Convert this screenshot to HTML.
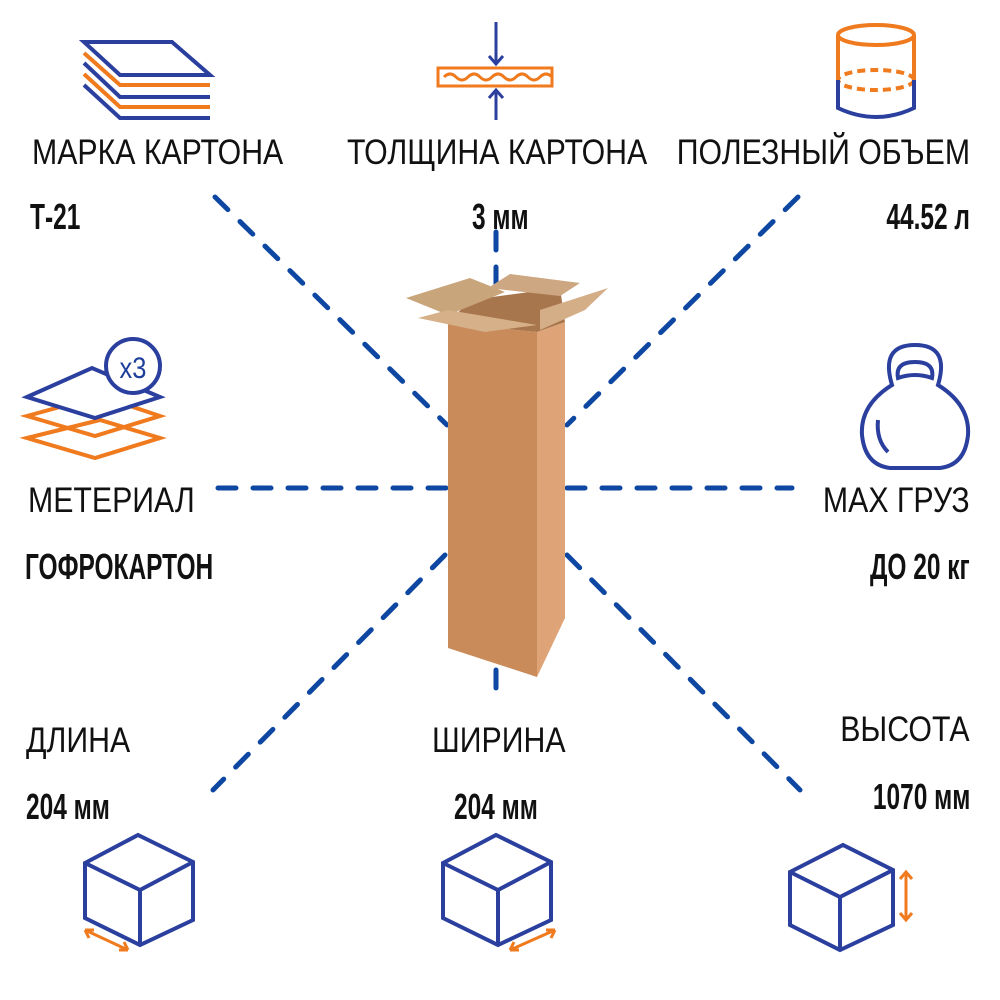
<!DOCTYPE html>
<html><head><meta charset="utf-8"><style>
html,body{margin:0;padding:0;background:#fff;}
body{width:1000px;height:1000px;position:relative;overflow:hidden;font-family:"Liberation Sans",sans-serif;}
.t{position:absolute;font-size:35px;line-height:40px;color:#111;white-space:nowrap;transform:scaleX(0.865);transform-origin:left top;}
.v{position:absolute;font-size:36px;line-height:40px;font-weight:bold;color:#111;white-space:nowrap;transform:scaleX(0.68);transform-origin:left top;}
.r{transform-origin:right top;}
svg{position:absolute;left:0;top:0;}
</style></head><body>
<svg width="1000" height="1000" viewBox="0 0 1000 1000">
<g stroke="#0d47a1" stroke-width="5" stroke-linecap="round" stroke-dasharray="18 17" fill="none">
<line x1="215" y1="197" x2="447" y2="425"/>
<line x1="798" y1="197" x2="567" y2="425"/>
<line x1="218" y1="488" x2="447" y2="488"/>
<line x1="567" y1="488" x2="792" y2="488"/>
<line x1="445" y1="555" x2="213" y2="790"/>
<line x1="567" y1="555" x2="800" y2="790"/>
<line x1="496" y1="232" x2="496" y2="300"/>
<line x1="496" y1="670" x2="496" y2="700"/>
</g>
<polygon points="448,323 537,332 537,677 448,648" fill="#c98b5a"/>
<polygon points="537,332 565,322 565,618 537,677" fill="#dea478"/>
<polygon points="470,300 560,288 565,322 537,332 448,323" fill="#a8764d"/>
<polygon points="406,298 470,278 505,292 448,315" fill="#c9a57c"/>
<polygon points="418,318 448,310 537,325 485,332" fill="#d6b088"/>
<polygon points="488,288 510,274 580,283 560,296" fill="#cca781"/>
<polygon points="540,310 608,288 585,310 540,330" fill="#d3ae86"/>
<g fill="none" stroke-width="4">
<polygon points="84,42 172,42 210,75 120,75" stroke="#2a3f9e"/>
<path d="M84,53 L120,85 L210,85" stroke="#f07a1e"/>
<path d="M84,63 L120,97 L210,97" stroke="#2a3f9e"/>
<path d="M84,74 L120,107 L210,107" stroke="#f07a1e"/>
<path d="M84,85 L120,118 L210,118" stroke="#2a3f9e"/>
</g>
<g stroke-width="3" fill="none">
<rect x="438" y="68" width="114" height="18" stroke="#f07a1e"/>
<path d="M444,77 q6,-6 12,0 t12,0 t12,0 t12,0 t12,0 t12,0 t12,0 t12,0 t12,0" stroke="#f07a1e"/>
<line x1="496" y1="22" x2="496" y2="64" stroke="#2a3f9e"/>
<path d="M489,56 L496,64 L503,56" stroke="#2a3f9e"/>
<line x1="496" y1="90" x2="496" y2="120" stroke="#2a3f9e"/>
<path d="M489,98 L496,90 L503,98" stroke="#2a3f9e"/>
</g>
<g fill="none" stroke-width="4">
<ellipse cx="876" cy="35" rx="38" ry="10" stroke="#f07a1e"/>
<path d="M838,35 L838,80" stroke="#f07a1e"/><path d="M914,35 L914,80" stroke="#f07a1e"/>
<ellipse cx="876" cy="80" rx="38" ry="10" stroke="#f07a1e" stroke-dasharray="8 5"/>
<path d="M838,80 L838,108 Q876,126 914,108 L914,80" stroke="#2a3f9e"/>
</g>
<g fill="none" stroke-width="4">
<polygon points="27,438 100,420 160,438 95,458" stroke="#f07a1e"/>
<polygon points="27,416 100,396 160,416 95,436" stroke="#f07a1e"/>
<polygon points="27,397 92,368 160,397 95,418" stroke="#2a3f9e" fill="#fff"/>
<circle cx="133" cy="366" r="27" stroke="#2a3f9e" fill="#fff"/>
</g>
<text x="133" y="378" font-size="30" fill="#1b3f9a" text-anchor="middle" font-family="Liberation Sans,sans-serif" transform="translate(133 0) scale(0.85 1) translate(-133 0)">x3</text>
<g fill="none" stroke="#2a3f9e" stroke-width="4">
<path d="M892,385 Q880,345 915,345 Q950,345 938,385 Q970,405 968,435 Q965,465 940,468 L890,468 Q865,465 862,435 Q860,405 892,385 Z"/>
<path d="M898,378 Q895,362 915,362 Q935,362 932,378 Q915,372 898,378 Z"/>
<path d="M878,420 Q876,440 888,452"/>
</g>
<g fill="none" stroke="#2a3f9e" stroke-width="4">
<polygon points="85,863 138,835 193,862 193,920 140,945 85,918"/>
<path d="M85,863 L140,890 L193,862 M140,890 L140,945"/>
<polygon points="443,863 496,835 551,862 551,920 498,945 443,918"/>
<path d="M443,863 L498,890 L551,862 M498,890 L498,945"/>
<polygon points="790,872 843,845 893,870 893,925 840,950 790,925"/>
<path d="M790,872 L840,897 L893,870 M840,897 L840,950"/>
</g>
<g fill="none" stroke="#f07a1e" stroke-width="3">
<path d="M85,930 L128,950 M85,930 l9,0 M85,930 l4,8 M128,950 l-9,0 M128,950 l-4,-8"/>
<path d="M510,950 L555,930 M510,950 l9,0 M510,950 l4,-8 M555,930 l-9,0 M555,930 l-4,8"/>
<path d="M906,872 L906,920 M900,879 L906,872 L912,879 M900,913 L906,920 L912,913"/>
</g>
</svg>
<div class="t" style="left:32px;top:133px">МАРКА КАРТОНА</div>
<div class="v" style="left:30px;top:197px">Т-21</div>
<div class="t" style="left:347px;top:133px">ТОЛЩИНА КАРТОНА</div>
<div class="v" style="left:472px;top:197px">3 мм</div>
<div class="t r" style="right:30px;top:133px">ПОЛЕЗНЫЙ ОБЪЕМ</div>
<div class="v r" style="right:30px;top:197px">44.52 л</div>
<div class="t" style="left:28px;top:481px">МЕТЕРИАЛ</div>
<div class="v" style="left:25px;top:547px">ГОФРОКАРТОН</div>
<div class="t r" style="right:30px;top:481px">MAX ГРУЗ</div>
<div class="v r" style="right:30px;top:547px">ДО 20 кг</div>
<div class="t" style="left:26px;top:721px">ДЛИНА</div>
<div class="v" style="left:26px;top:787px">204 мм</div>
<div class="t" style="left:432px;top:721px">ШИРИНА</div>
<div class="v" style="left:454px;top:787px">204 мм</div>
<div class="t r" style="right:30px;top:710px">ВЫСОТА</div>
<div class="v r" style="right:30px;top:777px">1070 мм</div>
</body></html>
